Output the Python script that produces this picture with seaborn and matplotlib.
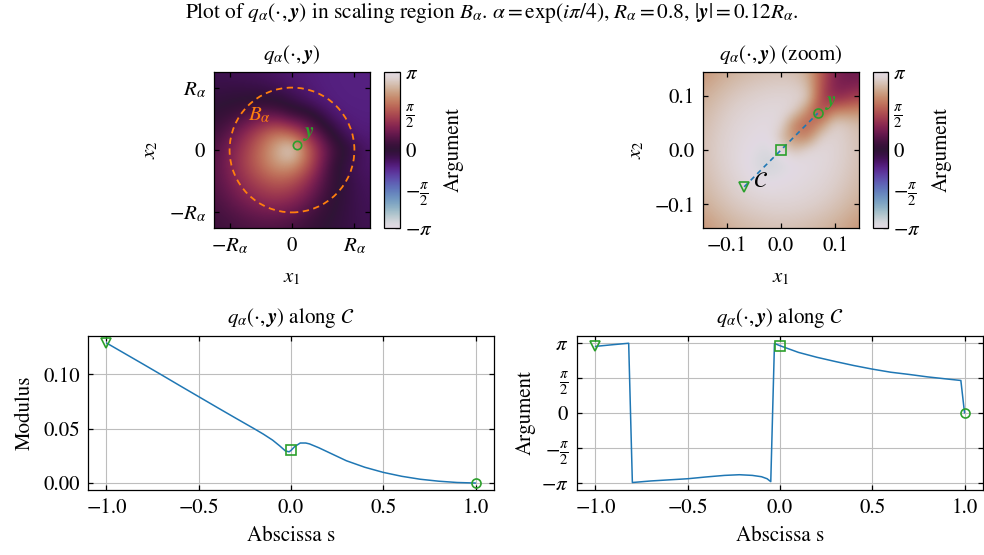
import numpy as np
import matplotlib
matplotlib.use("Agg")
import matplotlib.pyplot as plt
import seaborn as sns
from matplotlib.colors import Normalize, ListedColormap
from matplotlib.cm import ScalarMappable
from matplotlib.mathtext import MathTextParser

# ---------------- parameters read from the title ----------------
R_ALPHA = 0.8
Y_NORM = 0.12 * R_ALPHA
Y_ANGLE = np.pi / 4
Y_PT = (Y_NORM * np.cos(Y_ANGLE), Y_NORM * np.sin(Y_ANGLE))

# ---------------- argument field, big view (11x11 samples, x,y in [-1,1]) -------
BIG_X = [-1.0, -0.8, -0.6, -0.4, -0.2, 0.0, 0.2, 0.4, 0.6, 0.8, 1.0]
BIG_ARG = [  # rows from y=+1 (top) to y=-1 (bottom)
    [-0.29, -0.31, -0.35, -0.39, -0.46, -0.53, -0.59, -0.63, -0.65, -0.66, -0.66],
    [-0.20, -0.19, -0.20, -0.23, -0.32, -0.44, -0.55, -0.63, -0.65, -0.65, -0.65],
    [-0.06, 0.01, 0.09, 0.14, 0.07, -0.15, -0.40, -0.56, -0.64, -0.65, -0.65],
    [0.11, 0.30, 0.54, 0.79, 0.85, 0.52, 0.40, -0.20, -0.55, -0.62, -0.63],
    [0.30, 0.60, 1.05, 1.55, 2.00, 1.80, 1.10, 0.45, -0.20, -0.55, -0.58],
    [0.45, 0.83, 1.30, 1.85, 2.45, 3.05, 1.80, 0.85, 0.20, -0.20, -0.50],
    [0.50, 0.88, 1.35, 1.80, 2.25, 2.25, 1.60, 0.70, -0.05, -0.34, -0.47],
    [0.48, 0.79, 1.15, 1.45, 1.65, 1.55, 1.10, 0.50, 0.01, -0.28, -0.40],
    [0.40, 0.63, 0.89, 1.10, 1.20, 1.08, 0.76, 0.34, -0.03, -0.25, -0.36],
    [0.31, 0.45, 0.60, 0.72, 0.75, 0.65, 0.43, 0.16, -0.08, -0.24, -0.33],
    [0.22, 0.30, 0.38, 0.42, 0.41, 0.33, 0.19, 0.02, -0.12, -0.23, -0.30],
]

# ---------------- argument field, zoom view (13x13 samples, step 0.024) -----------
# values above pi are kept unwrapped (pi + small) so the sampling stays smooth
ZOOM_X = [-0.144, -0.120, -0.096, -0.072, -0.048, -0.024, 0.0,
          0.024, 0.048, 0.072, 0.096, 0.120, 0.144]
ZOOM_ARG = [  # rows from y=+0.144 (top) to y=-0.144 (bottom)
    [2.21, 2.35, 2.47, 2.56, 2.62, 2.66, 2.67, 2.66, 2.45, 1.65, 0.95, 0.70, 0.71],
    [2.35, 2.49, 2.61, 2.70, 2.76, 2.80, 2.82, 2.80, 2.62, 1.60, 0.90, 0.82, 0.92],
    [2.47, 2.61, 2.73, 2.82, 2.88, 2.92, 2.93, 2.92, 2.80, 1.45, 1.00, 1.20, 1.40],
    [2.56, 2.70, 2.82, 2.91, 2.97, 3.01, 3.01, 2.85, 2.10, 1.33, 2.05, 2.10, 2.14],
    [2.62, 2.76, 2.88, 2.97, 3.04, 3.08, 2.95, 2.00, 1.65, 2.10, 2.85, 2.74, 2.58],
    [2.66, 2.80, 2.92, 3.02, 3.11, 3.17, 2.60, 2.10, 2.00, 2.85, 2.92, 2.80, 2.66],
    [2.67, 2.82, 2.93, 3.06, 3.23, 3.34, 2.99, 2.60, 2.95, 3.01, 2.93, 2.82, 2.67],
    [2.66, 2.80, 2.93, 3.07, 3.31, 3.47, 3.34, 3.17, 3.08, 3.01, 2.92, 2.80, 2.66],
    [2.62, 2.76, 2.88, 3.01, 3.19, 3.31, 3.23, 3.11, 3.04, 2.97, 2.88, 2.76, 2.62],
    [2.56, 2.70, 2.82, 2.92, 3.01, 3.07, 3.05, 3.02, 2.97, 2.91, 2.82, 2.70, 2.56],
    [2.47, 2.61, 2.73, 2.82, 2.88, 2.92, 2.93, 2.92, 2.88, 2.82, 2.73, 2.61, 2.47],
    [2.35, 2.49, 2.61, 2.70, 2.76, 2.80, 2.82, 2.80, 2.76, 2.70, 2.61, 2.49, 2.35],
    [2.21, 2.35, 2.47, 2.56, 2.62, 2.66, 2.67, 2.66, 2.62, 2.56, 2.47, 2.35, 2.21],
]

# ---------------- modulus along C ----------------
S_MOD = [-1.0, -0.9, -0.8, -0.7, -0.6, -0.5, -0.4, -0.3, -0.2, -0.15, -0.1, -0.06,
         -0.03, -0.01, 0.0, 0.02, 0.05, 0.08, 0.1, 0.15, 0.2, 0.3, 0.4, 0.5, 0.6,
         0.7, 0.8, 0.9, 1.0]
MODULUS = [0.1288, 0.1190, 0.1092, 0.0993, 0.0893, 0.0794, 0.0695, 0.0597, 0.0500,
           0.0450, 0.0395, 0.0340, 0.0295, 0.0287, 0.0300, 0.0335, 0.0368, 0.0368,
           0.0360, 0.0325, 0.0285, 0.0205, 0.0145, 0.0098, 0.0062, 0.0035, 0.0017,
           0.0005, 0.0]

# ---------------- argument along C ----------------
S_ARG = [-1.0, -0.9, -0.82, -0.80, -0.7, -0.6, -0.5, -0.4, -0.3, -0.22, -0.15, -0.1,
         -0.07, -0.05, -0.03, 0.0, 0.1, 0.2, 0.3, 0.4, 0.5, 0.6, 0.7, 0.8, 0.9,
         0.98, 1.0]
ARGUMENT = [2.99, 3.07, 3.13, -3.12, -3.05, -3.00, -2.95, -2.87, -2.80, -2.77, -2.80,
            -2.86, -2.95, -3.08, 3.12, 3.02, 2.72, 2.50, 2.31, 2.13, 1.97, 1.83, 1.73,
            1.62, 1.53, 1.46, 0.0]

MARK_S = [-1.0, 0.0, 1.0]
MARK_STYLE = ["v", "s", "o"]

# ---------------- style ----------------
sns.set_theme(style="ticks")
plt.rcParams.update({
    "font.family": ["STIXGeneral", "Liberation Serif", "DejaVu Serif"],
    "mathtext.fontset": "stix",
    "font.size": 15,
    "axes.edgecolor": "black",
    "axes.linewidth": 0.9,
    "xtick.color": "black",
    "ytick.color": "black",
    "xtick.direction": "in",
    "ytick.direction": "in",
    "xtick.top": True,
    "ytick.right": True,
    "xtick.major.size": 3.5,
    "ytick.major.size": 3.5,
    "xtick.major.width": 0.9,
    "ytick.major.width": 0.9,
    "xtick.labelsize": 15,
    "ytick.labelsize": 15,
    "axes.labelsize": 15,
    "axes.titlesize": 15,
    "text.color": "black",
    "axes.labelcolor": "black",
})


def _ok(s):
    try:
        MathTextParser("path").parse(s)
        return True
    except Exception:
        return False


if _ok(r"$\mathbfit{y}$"):
    BY = r"\mathbfit{y}"
elif _ok(r"$\boldsymbol{y}$"):
    BY = r"\boldsymbol{y}"
else:
    BY = r"\mathbf{y}"

W, H = 984, 555
fig = plt.figure(figsize=(W / 100, H / 100), dpi=100)


def px(x, y, w, h):
    return [x / W, 1 - (y + h) / H, w / W, h / H]


green = "#2ca02c"
blue = "#1f77b4"
orange = "#ff7f0e"

tw = plt.get_cmap("twilight")
tw_colors = tw(np.linspace(0, 1, 512))
tw_double = ListedColormap(np.vstack([tw_colors, tw_colors[1:]]))
norm_double = Normalize(vmin=-np.pi, vmax=3 * np.pi)
arg_norm = Normalize(vmin=-np.pi, vmax=np.pi)

cb_ticks = [-np.pi, -np.pi / 2, 0, np.pi / 2, np.pi]
cb_labels = [r"$-\pi$", r"$-\frac{\pi}{2}$", r"$0$", r"$\frac{\pi}{2}$", r"$\pi$"]

title_q = r"$q_\alpha(\cdot," + BY + r")$"

# ---------------- top-left: full region ----------------
ax1 = fig.add_axes(px(214, 72, 156, 156))
bx = np.array(BIG_X)
d = (bx[1] - bx[0]) / 2
ax1.imshow(np.array(BIG_ARG), extent=[bx[0] - d, bx[-1] + d, bx[0] - d, bx[-1] + d],
           origin="upper", cmap=tw_double, norm=norm_double,
           interpolation="bicubic", interpolation_stage="data")
ax1.set_xlim(bx[0], bx[-1])
ax1.set_ylim(bx[0], bx[-1])
ax1.set_aspect("equal")
circ = plt.Circle((0, 0), R_ALPHA, fill=False, ls=(0, (3.5, 2.5)), lw=1.3, color=orange)
ax1.add_patch(circ)
ax1.text(-0.42, 0.44, r"$B_\alpha$", color=orange, ha="center", va="center", fontsize=15)
ax1.plot([Y_PT[0]], [Y_PT[1]], marker="o", ms=6, mfc="none", mec=green, mew=1.2, ls="none")
ax1.text(0.22, 0.22, r"$" + BY + r"$", color=green, ha="center", va="center", fontsize=15)
ax1.set_xticks([-R_ALPHA, 0, R_ALPHA])
ax1.set_xticklabels([r"$-R_\alpha$", r"$0$", r"$R_\alpha$"])
ax1.set_yticks([-R_ALPHA, 0, R_ALPHA])
ax1.set_yticklabels([r"$-R_\alpha$", r"$0$", r"$R_\alpha$"])
ax1.set_xlabel(r"$x_1$", labelpad=8)
ax1.set_ylabel(r"$x_2$", labelpad=6)
ax1.set_title(title_q, pad=9)
ax1.tick_params(which="both", top=True, right=True, pad=6)

cax1 = fig.add_axes(px(384, 72, 16, 156))
cb1 = fig.colorbar(ScalarMappable(norm=arg_norm, cmap=tw), cax=cax1, ticks=cb_ticks)
cb1.set_ticklabels(cb_labels)
cb1.set_label("Argument", labelpad=8)
cb1.outline.set_linewidth(0.9)
cax1.tick_params(direction="in", length=3.5, width=0.9)

# ---------------- top-right: zoom ----------------
ax2 = fig.add_axes(px(703, 72, 156, 156))
zx = np.array(ZOOM_X)
dz = (zx[1] - zx[0]) / 2
ax2.imshow(np.array(ZOOM_ARG), extent=[zx[0] - dz, zx[-1] + dz, zx[0] - dz, zx[-1] + dz],
           origin="upper", cmap=tw_double, norm=norm_double,
           interpolation="bicubic", interpolation_stage="data")
ax2.set_xlim(zx[0], zx[-1])
ax2.set_ylim(zx[0], zx[-1])
ax2.set_aspect("equal")
ax2.plot([-Y_PT[0], Y_PT[0]], [-Y_PT[1], Y_PT[1]], ls=(0, (3, 2.5)), lw=1.2, color=blue)
pts = [(-Y_PT[0], -Y_PT[1]), (0.0, 0.0), Y_PT]
for (px_, py_), mk in zip(pts, MARK_STYLE):
    ax2.plot([px_], [py_], marker=mk, ms=6.5, mfc="none", mec=green, mew=1.2, ls="none")
ax2.text(-0.037, -0.06, r"$\mathcal{C}$", color="black", ha="center", va="center", fontsize=16)
ax2.text(0.093, 0.088, r"$" + BY + r"$", color=green, ha="center", va="center", fontsize=15)
ax2.set_xticks([-0.1, 0.0, 0.1])
ax2.set_yticks([-0.1, 0.0, 0.1])
ax2.set_xlabel(r"$x_1$", labelpad=8)
ax2.set_ylabel(r"$x_2$", labelpad=6)
ax2.set_title(title_q + " (zoom)", pad=9)
ax2.tick_params(which="both", top=True, right=True, pad=6)

cax2 = fig.add_axes(px(873, 72, 15, 156))
cb2 = fig.colorbar(ScalarMappable(norm=arg_norm, cmap=tw), cax=cax2, ticks=cb_ticks)
cb2.set_ticklabels(cb_labels)
cb2.set_label("Argument", labelpad=8)
cb2.outline.set_linewidth(0.9)
cax2.tick_params(direction="in", length=3.5, width=0.9)

# ---------------- bottom-left: modulus ----------------
ax3 = fig.add_axes(px(88, 336, 406, 154))
ax3.grid(True, color="#bdbdbd", lw=0.8, zorder=0)
sns.lineplot(x=S_MOD, y=MODULUS, ax=ax3, color=blue, linewidth=1.1, zorder=2)
for s_, mk in zip(MARK_S, MARK_STYLE):
    ax3.plot([s_], [MODULUS[S_MOD.index(s_)]], marker=mk, ms=6.5, mfc="none",
             mec=green, mew=1.2, ls="none", zorder=3)
ax3.set_xlim(-1.1, 1.1)
ax3.set_ylim(-0.0064, 0.1352)
ax3.set_xticks([-1.0, -0.5, 0.0, 0.5, 1.0])
ax3.set_yticks([0.0, 0.05, 0.10])
ax3.set_yticklabels(["0.00", "0.05", "0.10"])
ax3.set_xlabel("Abscissa s", labelpad=6)
ax3.set_ylabel("Modulus", labelpad=6)
ax3.set_title(r"$q_\alpha(\cdot," + BY + r")$ along $\mathcal{C}$", pad=9)
ax3.tick_params(top=True, right=True, pad=6)
ax3.set_axisbelow(True)

# ---------------- bottom-right: argument ----------------
ax4 = fig.add_axes(px(577, 336, 406, 154))
ax4.grid(True, color="#bdbdbd", lw=0.8, zorder=0)
sns.lineplot(x=S_ARG, y=ARGUMENT, ax=ax4, color=blue, linewidth=1.1, zorder=2)
for s_, mk in zip(MARK_S, MARK_STYLE):
    ax4.plot([s_], [ARGUMENT[S_ARG.index(s_)]], marker=mk, ms=6.5, mfc="none",
             mec=green, mew=1.2, ls="none", zorder=3)
ax4.set_xlim(-1.1, 1.1)
ax4.set_ylim(-np.pi - 0.314, np.pi + 0.314)
ax4.set_xticks([-1.0, -0.5, 0.0, 0.5, 1.0])
ax4.set_yticks(cb_ticks)
ax4.set_yticklabels(cb_labels)
ax4.set_xlabel("Abscissa s", labelpad=6)
ax4.set_ylabel("Argument", labelpad=4)
ax4.set_title(r"$q_\alpha(\cdot," + BY + r")$ along $\mathcal{C}$", pad=9)
ax4.tick_params(top=True, right=True, pad=6)
ax4.set_axisbelow(True)

fig.suptitle(r"Plot of $q_\alpha(\cdot," + BY + r")$ in scaling region $B_\alpha$. "
             r"$\alpha = \exp(i\pi/4)$, $R_\alpha = 0.8$, $|" + BY + r"| = 0.12R_\alpha$.",
             x=0.5, y=1 - 13 / H, va="center", fontsize=15.4)

fig.savefig("out.png", dpi=100)
